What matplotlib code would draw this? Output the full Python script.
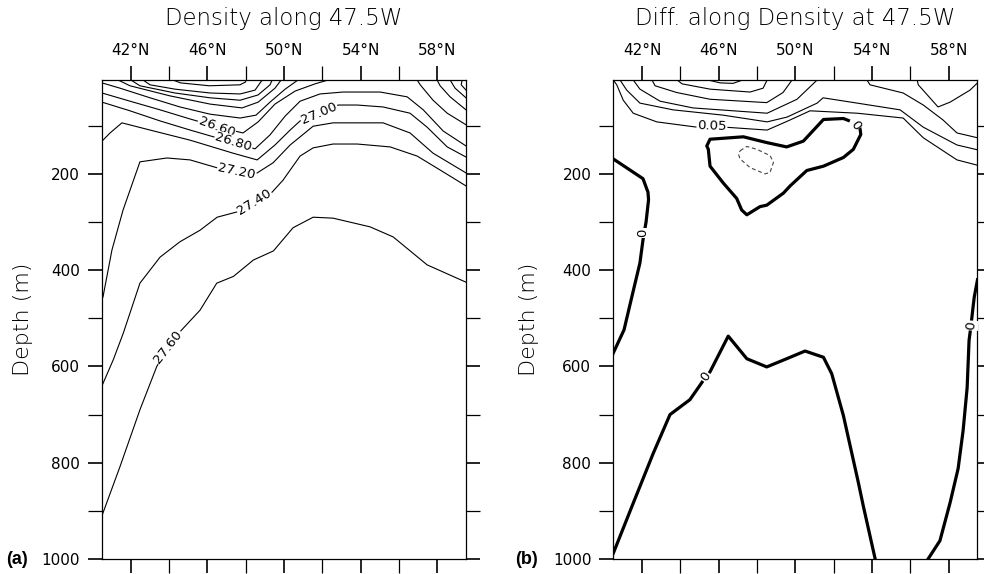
import matplotlib
matplotlib.use('Agg')
import matplotlib.pyplot as plt
from matplotlib.ticker import FixedLocator, FuncFormatter, NullFormatter

plt.rcParams['font.family'] = ['DejaVu Sans']

# ---------------- axis values ----------------
lat_major = [42, 46, 50, 54, 58]
lat_minor = [44, 48, 52, 56]
dep_major = [200, 400, 600, 800, 1000]
dep_minor = [100, 300, 500, 700, 900]
lat_range = (40.5, 59.5)
dep_range = (1000, 5)

title_a = "Density along 47.5W"
title_b = "Diff. along Density at 47.5W"

# ---------------- panel (a): isopycnals (lat, depth) ----------------
a_bowl_lat = [44.2, 44.6, 46.1, 47.7, 48.0, 48.0]
a_bowl_dep = [5, 11, 17, 15, 9, 5]
a_s1_lat = [42.64, 43.01, 44.31, 46.14, 47.71, 48.49, 48.86]
a_s1_dep = [5, 15, 24, 32, 34, 26, 5]
a_s2_lat = [42.01, 42.48, 44.31, 46.14, 47.71, 48.65, 49.27, 49.38]
a_s2_dep = [5, 17, 32, 42, 47, 36, 15, 5]
a_s3_lat = [41.34, 41.96, 44.05, 46.14, 47.81, 48.65, 49.53, 49.85]
a_s3_dep = [5, 17, 38, 55, 63, 51, 22, 5]
a_s4_lat = [40.5, 41.44, 43.01, 44.57, 46.14, 47.71, 48.54, 49.27, 50.06, 50.73]
a_s4_dep = [11, 22, 42, 61, 76, 84, 78, 51, 24, 5]
a_2660_lat = [40.5, 41.96, 43.53, 45.10, 46.49, 47.86, 48.65, 49.53, 50.58, 51.62, 52.30]
a_2660_dep = [32, 49, 67, 86, 102, 115, 92, 55, 28, 13, 5]
a_2680_lat = [40.5, 41.96, 43.53, 45.10, 47.36, 48.49, 49.27, 50.06, 50.84, 51.88, 53.08, 55.02, 56.43, 57.27, 58.31, 59.5]
a_2680_dep = [51, 69, 90, 109, 135, 148, 119, 80, 49, 34, 30, 30, 40, 67, 111, 142]
a_2700_lat = [40.5, 40.92, 41.54, 43.01, 45.10, 47.34, 48.60, 49.53, 50.32, 50.84, 51.83, 52.83, 53.82, 55.17, 56.58, 57.47, 58.52, 59.5]
a_2700_dep = [132, 115, 94, 109, 130, 157, 171, 140, 109, 90, 74, 57, 57, 61, 74, 103, 144, 165]
a_2720_lat = [40.55, 41.02, 41.60, 42.48, 43.89, 45.10, 46.56, 47.53, 48.60, 49.43, 50.32, 51.52, 52.56, 55.17, 56.58, 57.78, 59.5]
a_2720_dep = [456, 358, 275, 175, 167, 171, 188, 195, 198, 177, 140, 101, 94, 94, 115, 157, 198]
a_2740_lat = [40.48, 41.09, 41.61, 42.48, 43.53, 44.57, 45.62, 46.51, 47.55, 48.44, 49.38, 49.95, 50.84, 51.52, 52.56, 53.82, 55.54, 56.95, 58.15, 59.5]
a_2740_dep = [642, 586, 531, 427, 373, 341, 317, 290, 279, 258, 238, 213, 163, 146, 138, 138, 144, 163, 192, 225]
a_2760_lat = [40.48, 41.44, 42.48, 43.36, 43.95, 44.57, 45.62, 46.49, 47.36, 48.40, 49.45, 50.47, 51.52, 52.56, 54.49, 55.70, 57.47, 59.5]
a_2760_dep = [912, 808, 690, 600, 559, 528, 483, 427, 413, 379, 360, 312, 290, 292, 310, 331, 389, 425]
a_ra_lat = [56.95, 57.11, 57.78, 58.52, 59.5]
a_ra_dep = [5, 15, 47, 74, 98]
a_rb_lat = [57.99, 58.15, 58.67, 59.5]
a_rb_dep = [5, 17, 40, 67]
a_rc_lat = [58.67, 58.93, 59.5]
a_rc_dep = [5, 22, 42]
a_rd_lat = [59.30, 59.25, 59.5]
a_rd_dep = [5, 15, 26]

a_label_text = ["26.60", "26.80", "27.00", "27.20", "27.40", "27.60"]
a_label_lat = [46.49, 47.36, 51.83, 47.53, 48.44, 43.95]
a_label_dep = [102, 135, 74, 195, 258, 559]
a_label_rot = [-20, -17, 23, -12, 32, 52]

# ---------------- panel (b): difference contours ----------------
b_p1_lat = [45.45, 46.07, 46.75, 47.11, 47.22]
b_p1_dep = [5, 11, 12, 7, 5]
b_p2_lat = [43.83, 44.09, 45.55, 47.64, 48.32, 48.53]
b_p2_dep = [5, 13, 24, 30, 22, 5]
b_p3_lat = [42.52, 42.68, 43.81, 45.55, 48.51, 49.36, 49.83]
b_p3_dep = [5, 17, 31, 45, 52, 31, 5]
b_p4_lat = [41.54, 41.89, 42.94, 44.66, 48.53, 50.09, 51.14]
b_p4_dep = [5, 24, 49, 63, 74, 45, 5]
b_p5_lat = [40.85, 41.20, 41.89, 43.62, 46.23, 48.53, 49.57, 51.14, 51.45, 53.23, 55.47, 56.68, 58.44, 59.51]
b_p5_dep = [5, 26, 53, 67, 78, 92, 82, 53, 42, 53, 67, 103, 140, 150]
b_005_lat = [40.5, 40.68, 41.02, 41.54, 42.77, 44.87, 45.65, 46.33, 48.53, 49.73, 50.77, 53.23, 55.63, 56.68, 58.44, 59.51]
b_005_dep = [5, 15, 47, 74, 92, 103, 101, 103, 109, 88, 69, 74, 84, 125, 171, 182]
b_p7_lat = [53.74, 53.90, 55.63, 56.68, 57.71, 58.44, 59.51]
b_p7_dep = [5, 15, 32, 57, 88, 115, 125]
b_p8_lat = [56.36, 56.42, 57.45, 58.08, 59.12, 59.51]
b_p8_dep = [5, 15, 61, 51, 26, 11]

b_z1_lat = [40.5, 41.22, 42.05, 42.31, 42.34, 42.21, 42.05, 41.89, 41.53, 41.06, 40.5]
b_z1_dep = [169, 188, 210, 238, 254, 300, 337, 385, 445, 524, 572]
b_z2_lat = [53.38, 53.42, 53.03, 52.51, 51.47, 50.60, 49.73, 49.38, 48.51, 48.16, 47.47, 47.20,
            46.94, 46.24, 45.55, 45.46, 45.38, 45.55, 47.29, 48.51, 49.55, 50.42, 51.47, 52.51, 52.77]
b_z2_dep = [107, 118, 149, 166, 184, 193, 225, 240, 265, 268, 285, 275,
            251, 219, 184, 149, 142, 128, 123, 135, 144, 132, 87, 85, 89]
b_z4_lat = [40.5, 41.54, 42.59, 43.46, 44.50, 45.20, 45.34, 45.55, 46.50, 47.47, 48.51, 49.55, 50.51, 51.47, 51.90, 52.51, 53.29, 53.55, 54.17]
b_z4_dep = [988, 884, 780, 700, 669, 629, 622, 611, 537, 584, 601, 584, 568, 581, 615, 702, 841, 890, 1000]
b_z5_lat = [56.93, 57.55, 58.08, 58.50, 58.76, 58.97, 59.07, 59.17, 59.26, 59.34, 59.51]
b_z5_dep = [1000, 962, 883, 812, 733, 644, 546, 515, 483, 456, 420]
b_neg_lat = [47.12, 47.47, 47.99, 48.68, 48.86, 48.68, 48.42, 47.64, 47.12, 47.03, 47.12]
b_neg_dep = [152, 143, 149, 162, 176, 197, 200, 187, 169, 159, 152]

b_label_text = ["0.05", "0", "0", "0", "0"]
b_label_lat = [45.65, 42.05, 53.12, 45.34, 59.17]
b_label_dep = [101, 323, 99, 622, 515]
b_label_rot = [-2, 90, -55, 55, 85]

# ---------------- figure ----------------
W, H = 984, 574
fig = plt.figure(figsize=(W / 100, H / 100), dpi=100)
axA = fig.add_axes([102 / W, 1 - 559 / H, 364 / W, 479 / H])
axB = fig.add_axes([613.3 / W, 1 - 559 / H, 364 / W, 479 / H])


def style_axis(ax):
    ax.set_xlim(*lat_range)
    ax.set_ylim(*dep_range)
    ax.xaxis.set_major_locator(FixedLocator(lat_major))
    ax.xaxis.set_minor_locator(FixedLocator(lat_minor))
    ax.yaxis.set_major_locator(FixedLocator(dep_major))
    ax.yaxis.set_minor_locator(FixedLocator(dep_minor))
    ax.xaxis.set_major_formatter(FuncFormatter(lambda v, p: f"{int(v)}°N"))
    ax.xaxis.set_minor_formatter(NullFormatter())
    ax.yaxis.set_major_formatter(FuncFormatter(lambda v, p: f"{int(v)}"))
    ax.tick_params(axis='x', which='both', top=True, bottom=True,
                   labeltop=True, labelbottom=False, direction='out')
    ax.tick_params(axis='y', which='both', left=True, right=True,
                   labelleft=True, labelright=False, direction='out')
    ax.tick_params(which='major', length=9.8, width=1.2, labelsize=11, pad=6)
    ax.tick_params(which='minor', length=9.8, width=0.9)
    for s in ax.spines.values():
        s.set_linewidth(0.9)


def line(ax, la, de, **kw):
    opts = dict(color='black', lw=0.8, solid_joinstyle='round')
    opts.update(kw)
    ax.plot(la, de, **opts)


def clabel(ax, x, y, t, rot):
    ax.text(x, y, t, rotation=rot, ha='center', va='center', fontsize=9.5, zorder=5,
            bbox=dict(facecolor='white', edgecolor='none', pad=0.6))


style_axis(axA)
style_axis(axB)

for la, de in [(a_bowl_lat, a_bowl_dep), (a_s1_lat, a_s1_dep), (a_s2_lat, a_s2_dep),
               (a_s3_lat, a_s3_dep), (a_s4_lat, a_s4_dep), (a_2660_lat, a_2660_dep),
               (a_2680_lat, a_2680_dep), (a_2700_lat, a_2700_dep), (a_2720_lat, a_2720_dep),
               (a_2740_lat, a_2740_dep), (a_2760_lat, a_2760_dep), (a_ra_lat, a_ra_dep),
               (a_rb_lat, a_rb_dep), (a_rc_lat, a_rc_dep), (a_rd_lat, a_rd_dep)]:
    line(axA, la, de)
for x, y, t, r in zip(a_label_lat, a_label_dep, a_label_text, a_label_rot):
    clabel(axA, x, y, t, r)

for la, de in [(b_p1_lat, b_p1_dep), (b_p2_lat, b_p2_dep), (b_p3_lat, b_p3_dep),
               (b_p4_lat, b_p4_dep), (b_p5_lat, b_p5_dep), (b_005_lat, b_005_dep),
               (b_p7_lat, b_p7_dep), (b_p8_lat, b_p8_dep)]:
    line(axB, la, de)
for la, de in [(b_z1_lat, b_z1_dep), (b_z2_lat, b_z2_dep), (b_z4_lat, b_z4_dep), (b_z5_lat, b_z5_dep)]:
    line(axB, la, de, lw=2.3)
line(axB, b_neg_lat, b_neg_dep, lw=0.8, color='#444444', ls=(0, (3.5, 2.5)))
for x, y, t, r in zip(b_label_lat, b_label_dep, b_label_text, b_label_rot):
    clabel(axB, x, y, t, r)

# titles, axis labels, panel tags (large text in a light weight, like the thin original)
for ax, t in [(axA, title_a), (axB, title_b)]:
    pos = ax.get_position()
    fig.text((pos.x0 + pos.x1) / 2, 1 - 25 / H, t, ha='center', va='baseline',
             fontsize=16.5, fontweight='light')
fig.text(23 / W, 1 - 319.5 / H, "Depth (m)", rotation=90, ha='center', va='center',
         fontsize=16, fontweight='light')
fig.text(529 / W, 1 - 319.5 / H, "Depth (m)", rotation=90, ha='center', va='center',
         fontsize=16, fontweight='light')
fig.text(6 / W, 1 - 559 / H, "(a)", ha='left', va='center', fontsize=13,
         fontweight='bold', family='Liberation Sans')
fig.text(515 / W, 1 - 559 / H, "(b)", ha='left', va='center', fontsize=13,
         fontweight='bold', family='Liberation Sans')

fig.savefig('out.png', dpi=100)
